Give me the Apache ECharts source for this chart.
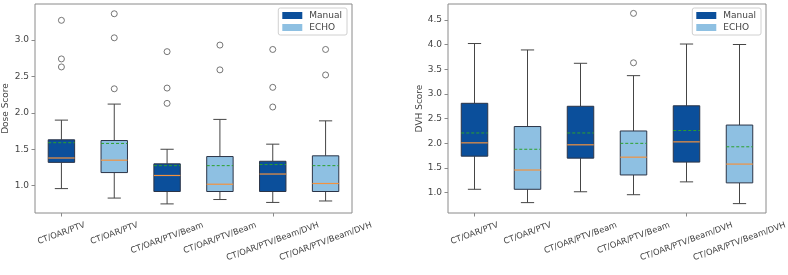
<!DOCTYPE html>
<html>
<head>
<meta charset="utf-8">
<script src="https://cdn.jsdelivr.net/npm/echarts@6/dist/echarts.min.js"></script>
<style>
html,body{margin:0;padding:0;background:#fff;}
#main{width:788px;height:275px;}
</style>
</head>
<body>
<div id="main"></div>
<script>
// ---- data ----
const categories = ['CT/OAR/PTV','CT/OAR/PTV','CT/OAR/PTV/Beam','CT/OAR/PTV/Beam','CT/OAR/PTV/Beam/DVH','CT/OAR/PTV/Beam/DVH'];
const groups = ['Manual','ECHO','Manual','ECHO','Manual','ECHO'];

const doseLow  = [0.96, 0.83, 0.75, 0.81, 0.77, 0.79];
const doseQ1   = [1.32, 1.18, 0.92, 0.92, 0.92, 0.92];
const doseMed  = [1.38, 1.35, 1.14, 1.02, 1.16, 1.03];
const doseQ3   = [1.63, 1.62, 1.30, 1.40, 1.335, 1.41];
const doseHigh = [1.90, 2.12, 1.50, 1.91, 1.57, 1.89];
const doseMean = [1.59, 1.58, 1.275, 1.275, 1.29, 1.275];
const doseOutliers = [[3.27,2.74,2.63],[3.36,3.03,2.33],[2.84,2.34,2.13],[2.93,2.59],[2.87,2.35,2.08],[2.87,2.52]];

const dvhLow  = [1.07, 0.80, 1.02, 0.96, 1.22, 0.78];
const dvhQ1   = [1.74, 1.07, 1.70, 1.36, 1.62, 1.20];
const dvhMed  = [2.01, 1.46, 1.97, 1.72, 2.03, 1.58];
const dvhQ3   = [2.81, 2.34, 2.75, 2.25, 2.76, 2.37];
const dvhHigh = [4.02, 3.89, 3.62, 3.37, 4.01, 4.00];
const dvhMean = [2.21, 1.88, 2.21, 2.00, 2.26, 1.93];
const dvhOutliers = [[],[],[],[4.63,3.63],[],[]];

const doseTicks = [1.0, 1.5, 2.0, 2.5, 3.0];
const dvhTicks = [1.0, 1.5, 2.0, 2.5, 3.0, 3.5, 4.0, 4.5];
const doseRange = [0.625, 3.494];
const dvhRange = [0.59, 4.82];

// ---- styles ----
const FONT = '"DejaVu Sans", sans-serif';
const colors = {Manual: '#0b4f9b', ECHO: '#8ec0e2'};
const textColor = '#444';
const frameColor = '#8a8a8a';

function boxData(group, low, q1, med, q3, high, mean) {
  const out = [];
  for (let i = 0; i < categories.length; i++) {
    if (groups[i] !== group) continue;
    out.push([i, low[i], q1[i], med[i], q3[i], high[i], mean[i]]);
  }
  return out;
}
function outlierData(outs) {
  const out = [];
  outs.forEach((arr, i) => arr.forEach(v => out.push([i, v])));
  return out;
}

function renderBox(params, api) {
  const x = api.value(0);
  const bw = api.size([1, 0])[0] * 0.5;
  const cw = bw * 0.5;
  const pLow = api.coord([x, api.value(1)]);
  const pQ1 = api.coord([x, api.value(2)]);
  const pMed = api.coord([x, api.value(3)]);
  const pQ3 = api.coord([x, api.value(4)]);
  const pHigh = api.coord([x, api.value(5)]);
  const pMean = api.coord([x, api.value(6)]);
  const cx = pQ1[0];
  const line = '#454545';
  return {
    type: 'group',
    children: [
      {type: 'line', shape: {x1: cx, y1: pLow[1], x2: cx, y2: pQ1[1]}, style: {stroke: line, lineWidth: 1}},
      {type: 'line', shape: {x1: cx, y1: pQ3[1], x2: cx, y2: pHigh[1]}, style: {stroke: line, lineWidth: 1}},
      {type: 'line', shape: {x1: cx - cw / 2, y1: pLow[1], x2: cx + cw / 2, y2: pLow[1]}, style: {stroke: line, lineWidth: 1}},
      {type: 'line', shape: {x1: cx - cw / 2, y1: pHigh[1], x2: cx + cw / 2, y2: pHigh[1]}, style: {stroke: line, lineWidth: 1}},
      {type: 'rect', shape: {x: cx - bw / 2, y: pQ3[1], width: bw, height: pQ1[1] - pQ3[1]},
        style: {fill: api.visual('color'), stroke: '#2b3447', lineWidth: 1}},
      {type: 'line', shape: {x1: cx - bw / 2, y1: pMed[1], x2: cx + bw / 2, y2: pMed[1]}, style: {stroke: '#f2923f', lineWidth: 1.2}},
      {type: 'line', shape: {x1: cx - bw / 2, y1: pMean[1], x2: cx + bw / 2, y2: pMean[1]}, style: {stroke: '#2ca02c', lineWidth: 1, lineDash: [3, 2]}}
    ]
  };
}

function yAxis(g, range, ticks, name, gap) {
  return {
    type: 'value', gridIndex: g, min: range[0], max: range[1],
    name: name, nameLocation: 'middle', nameGap: gap, nameRotate: 90,
    nameTextStyle: {fontFamily: FONT, fontSize: 9, color: textColor},
    axisLine: {show: false},
    splitLine: {show: false},
    axisTick: {show: true, length: 3.5, customValues: ticks, lineStyle: {color: frameColor}},
    axisLabel: {show: true, customValues: ticks, margin: 6, fontFamily: FONT, fontSize: 9, color: textColor,
      formatter: v => Number(v).toFixed(1)}
  };
}
function xAxis(g) {
  return {
    type: 'category', gridIndex: g, data: categories, boundaryGap: true,
    axisLine: {show: false},
    axisTick: {show: true, alignWithLabel: true, length: 3.5, lineStyle: {color: frameColor}},
    axisLabel: {show: false},
    splitLine: {show: false}
  };
}
function legend(right) {
  return {
    data: ['Manual', 'ECHO'], orient: 'vertical', right: right, top: 8,
    icon: 'rect', itemWidth: 20, itemHeight: 7, itemGap: 3,
    padding: [3, 5, 3, 4],
    borderColor: '#d0d0d0', borderWidth: 1, borderRadius: 2,
    textStyle: {fontFamily: FONT, fontSize: 9, color: textColor, padding: [0, 0, 0, 2]},
    selectedMode: false
  };
}
function seriesFor(g, low, q1, med, q3, high, mean, outs) {
  return [
    {name: 'Manual', type: 'custom', xAxisIndex: g, yAxisIndex: g, renderItem: renderBox,
      itemStyle: {color: colors.Manual}, encode: {x: 0, y: [1, 2, 3, 4, 5, 6]},
      data: boxData('Manual', low, q1, med, q3, high, mean), silent: true},
    {name: 'ECHO', type: 'custom', xAxisIndex: g, yAxisIndex: g, renderItem: renderBox,
      itemStyle: {color: colors.ECHO}, encode: {x: 0, y: [1, 2, 3, 4, 5, 6]},
      data: boxData('ECHO', low, q1, med, q3, high, mean), silent: true},
    {name: 'outliers', type: 'scatter', xAxisIndex: g, yAxisIndex: g, symbol: 'circle', symbolSize: 6,
      itemStyle: {color: 'rgba(0,0,0,0)', borderColor: '#555', borderWidth: 1},
      data: outlierData(outs), silent: true}
  ];
}

const chart = echarts.init(document.getElementById('main'), null, {renderer: 'canvas'});
const option = {
  backgroundColor: '#fff',
  animation: false,
  grid: [
    {left: 35, top: 4, width: 317, height: 209, show: true, borderColor: frameColor, borderWidth: 1, backgroundColor: 'transparent'},
    {left: 448, top: 4, width: 318, height: 209, show: true, borderColor: frameColor, borderWidth: 1, backgroundColor: 'transparent'}
  ],
  xAxis: [xAxis(0), xAxis(1)],
  yAxis: [yAxis(0, doseRange, doseTicks, 'Dose Score', 25), yAxis(1, dvhRange, dvhTicks, 'DVH Score', 23)],
  legend: [legend(441), legend(27)],
  series: [].concat(
    seriesFor(0, doseLow, doseQ1, doseMed, doseQ3, doseHigh, doseMean, doseOutliers),
    seriesFor(1, dvhLow, dvhQ1, dvhMed, dvhQ3, dvhHigh, dvhMean, dvhOutliers)
  )
};
chart.setOption(option);

// rotated category labels, centred under each tick (matplotlib style)
(function () {
  const fs = 8.3;
  const font = fs + 'px ' + FONT;
  const ctx = document.createElement('canvas').getContext('2d');
  ctx.font = font;
  const th = 20 * Math.PI / 180;
  const els = [];
  [[0, doseRange], [1, dvhRange]].forEach(([g, range]) => {
    const bottom = chart.convertToPixel({yAxisIndex: g}, range[0]);
    categories.forEach((c, i) => {
      const px = chart.convertToPixel({xAxisIndex: g}, i);
      const L = ctx.measureText(c).width;
      const h = L * Math.sin(th) + fs * Math.cos(th);
      els.push({
        type: 'text', x: px, y: bottom + 8 + h / 2, rotation: th, silent: true,
        style: {text: c, align: 'center', verticalAlign: 'middle', font: font, fill: textColor}
      });
    });
  });
  chart.setOption({graphic: els});
})();
</script>
</body>
</html>
